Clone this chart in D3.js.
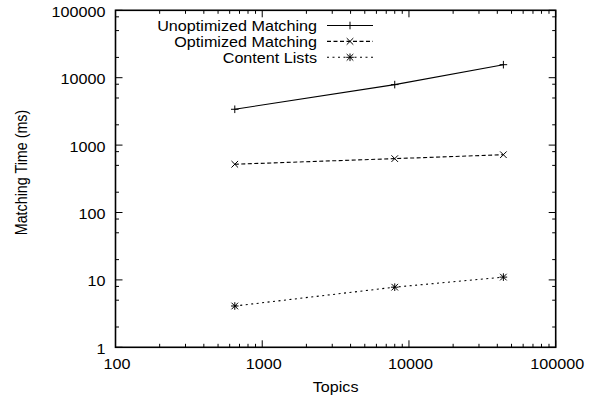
<!DOCTYPE html>
<html><head><meta charset="utf-8">
<script src="https://cdn.jsdelivr.net/npm/d3@7"></script>
<style>body{margin:0;background:#fff}svg{display:block}text{font-family:"Liberation Sans",Arial,sans-serif;font-size:14.3px;fill:#000}</style>
</head><body><svg id="c" width="592" height="398"></svg>
<script>
const topics = [650, 8000, 44000];
const unoptimized = [3400, 7900, 15600];
const optimized = [520, 630, 720];
const contentLists = [4.1, 7.8, 11];
const seriesNames = ["Unoptimized Matching", "Optimized Matching", "Content Lists"];
const xTicks = [100, 1000, 10000, 100000];
const yTicks = [1, 10, 100, 1000, 10000, 100000];
const xMinorMult = [2, 3, 4, 5, 6, 7, 8, 9];
const yMinorMult = [2, 5, 8];
const xTitle = "Topics";
const yTitle = "Matching Time (ms)";

const SX = 1.13;
const L = 115.5, R = 555.7, T = 10.3, B = 347.3;
const svg = d3.select("#c");
const x = d3.scaleLog().domain([100, 100000]).range([L, R]);
const y = d3.scaleLog().domain([1, 100000]).range([B, T]);

function txt(g, s, tx, ty, anchor, rot) {
  return g.append("text").attr("text-anchor", anchor)
    .attr("transform", `translate(${tx},${ty}) scale(${SX},1)` + (rot ? " rotate(-90)" : ""))
    .text(s);
}

const axes = svg.append("g").attr("stroke", "#000").attr("stroke-width", 1).attr("fill", "none");
const major = 7, minor = 3.5;
// x ticks
const xMinor = [];
xTicks.slice(0, -1).forEach(d => xMinorMult.forEach(m => xMinor.push(d * m)));
const yMinor = [];
yTicks.slice(0, -1).forEach(d => yMinorMult.forEach(m => yMinor.push(d * m)));
function xt(vals, len) {
  vals.forEach(v => {
    const px = x(v);
    axes.append("line").attr("x1", px).attr("x2", px).attr("y1", B).attr("y2", B - len);
    axes.append("line").attr("x1", px).attr("x2", px).attr("y1", T).attr("y2", T + len);
  });
}
function yt(vals, len) {
  vals.forEach(v => {
    const py = y(v);
    axes.append("line").attr("y1", py).attr("y2", py).attr("x1", L).attr("x2", L + len);
    axes.append("line").attr("y1", py).attr("y2", py).attr("x1", R).attr("x2", R - len);
  });
}
xt(xTicks, major); xt(xMinor, minor);
yt(yTicks, major); yt(yMinor, minor);
axes.append("rect").attr("x", L).attr("y", T).attr("width", R - L).attr("height", B - T).attr("stroke-width", 1.6);

const tg = svg.append("g");
xTicks.forEach(v => txt(tg, String(v), x(v) + 1.5, 369.3, "middle"));
yTicks.forEach(v => txt(tg, String(v), 105.5, y(v) + 6.5, "end"));
txt(tg, xTitle, (L + R) / 2, 391.5, "middle");
txt(tg, yTitle, 26.7, 172.5, "middle", true);

const styles = [
  { data: unoptimized, dash: null, mark: "plus" },
  { data: optimized, dash: "4,2.5", mark: "cross" },
  { data: contentLists, dash: "2,3.5", mark: "star" }
];
const line = d3.line().x(d => x(d[0])).y(d => y(d[1]));
function marker(g, cx, cy, kind) {
  const p = 3.8, c = 3.3;
  const m = g.append("g").attr("stroke", "#000").attr("stroke-width", 1).attr("fill", "none");
  if (kind === "plus" || kind === "star") {
    m.append("line").attr("x1", cx - p).attr("x2", cx + p).attr("y1", cy).attr("y2", cy);
    m.append("line").attr("x1", cx).attr("x2", cx).attr("y1", cy - p).attr("y2", cy + p);
  }
  if (kind === "cross" || kind === "star") {
    m.append("line").attr("x1", cx - c).attr("x2", cx + c).attr("y1", cy - c).attr("y2", cy + c);
    m.append("line").attr("x1", cx - c).attr("x2", cx + c).attr("y1", cy + c).attr("y2", cy - c);
  }
}
const dg = svg.append("g");
const legY = [25.5, 41.4, 57.3];
styles.forEach((s, i) => {
  const pts = topics.map((t, j) => [t, s.data[j]]);
  const p = dg.append("path").attr("d", line(pts)).attr("fill", "none").attr("stroke", "#000").attr("stroke-width", 1.1);
  if (s.dash) p.attr("stroke-dasharray", s.dash);
  pts.forEach(d => marker(dg, x(d[0]), y(d[1]), s.mark));
  // legend
  const ly = legY[i];
  txt(dg, seriesNames[i], 317, ly + 5.8, "end");
  const lp = dg.append("line").attr("x1", 327).attr("x2", 373).attr("y1", ly).attr("y2", ly)
    .attr("stroke", "#000").attr("stroke-width", 1.1);
  if (s.dash) lp.attr("stroke-dasharray", s.dash);
  marker(dg, 350, ly, s.mark);
});
</script></body></html>
